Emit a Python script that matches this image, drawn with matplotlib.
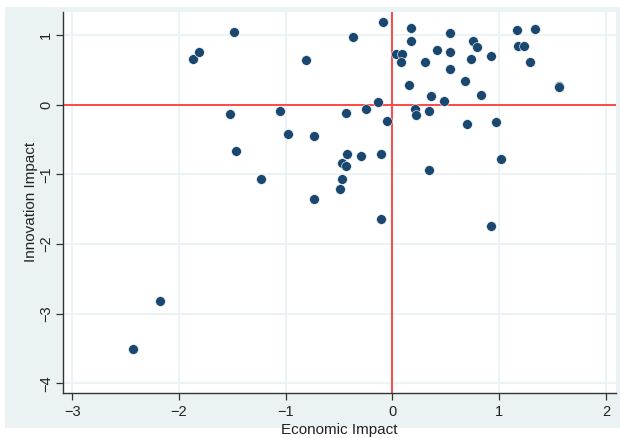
import matplotlib.pyplot as plt
from matplotlib.patches import Rectangle

# --- data ---
econ_impact = [
    -1.488, -1.864, -1.808, -0.808, -1.522, -1.054, -1.466, -0.974, -0.737, -1.230,
    -0.735, -0.086, -0.373, 0.173, 0.173, 0.539, 0.751, 0.793, 1.163, 1.338,
    1.176, 1.237, 1.286, 0.030, 0.094, 0.080, 0.304, 0.414, 0.539, 0.740,
    0.926, 0.539, 0.676, 0.155, 1.560, 1.565, 0.365, 0.827, 0.481, -0.138,
    -0.245, -0.431, 0.215, 0.222, 0.342, -0.047, 0.696, 0.970, -0.426, -0.290,
    -0.110, -0.475, -0.434, 1.018, 0.344, -0.475, -0.492, -0.111, 0.923, -2.178,
    -2.434,
]
innov_impact = [
    1.046, 0.650, 0.755, 0.637, -0.131, -0.092, -0.659, -0.426, -0.450, -1.065,
    -1.357, 1.181, 0.974, 1.099, 0.920, 1.032, 0.908, 0.829, 1.075, 1.080,
    0.841, 0.845, 0.616, 0.730, 0.733, 0.616, 0.611, 0.783, 0.755, 0.657,
    0.697, 0.508, 0.343, 0.277, 0.274, 0.255, 0.131, 0.138, 0.055, 0.044,
    -0.056, -0.123, -0.066, -0.149, -0.088, -0.235, -0.271, -0.250, -0.713, -0.742,
    -0.713, -0.831, -0.878, -0.780, -0.943, -1.072, -1.211, -1.634, -1.746, -2.813,
    -3.511,
]
x_ticks = [-3, -2, -1, 0, 1, 2]
y_ticks = [-4, -3, -2, -1, 0, 1]

plt.rcParams["font.family"] = ["Liberation Sans", "DejaVu Sans"]

BG = "#eaf2f3"
NAVY = "#1a476f"
RED = "#ff4848"

fig = plt.figure(figsize=(6.2, 4.38), dpi=100)
fig.patch.set_facecolor("white")
fig.patches.append(Rectangle((0.008, 0.0228), 0.992, 0.961, transform=fig.transFigure,
                             facecolor=BG, edgecolor="none", zorder=-10))

ax = fig.add_axes([0.1011, 0.1034, 0.8924, 0.8692])
ax.set_facecolor("white")

ax.set_xlim(-3.089, 2.094)
ax.set_ylim(-4.133, 1.329)
ax.set_xticks(x_ticks)
ax.set_yticks(y_ticks)
ax.grid(True, color=BG, linewidth=1.3, zorder=0)
ax.set_axisbelow(True)

ax.axhline(0, color=RED, linewidth=1.4, zorder=2)
ax.axvline(0, color=RED, linewidth=1.4, zorder=2)

ax.scatter(econ_impact, innov_impact, s=50, color=NAVY, edgecolors="white",
           linewidths=0.4, zorder=3)

for side in ["top", "right"]:
    ax.spines[side].set_visible(False)
for side in ["left", "bottom"]:
    ax.spines[side].set_color("#333333")
    ax.spines[side].set_linewidth(1.0)

ax.tick_params(axis="both", direction="out", length=5, width=0.9, color="#333333",
               labelsize=10.5, labelcolor="#222222")
ax.tick_params(axis="y", pad=2)
for lbl in ax.get_yticklabels():
    lbl.set_rotation(90)
    lbl.set_va("center")

ax.set_xlabel("Economic Impact", fontsize=11, color="#222222", labelpad=3)
ax.set_ylabel("Innovation Impact", fontsize=11, color="#222222", labelpad=1)

fig.savefig("out.png", dpi=100, facecolor=fig.get_facecolor())
